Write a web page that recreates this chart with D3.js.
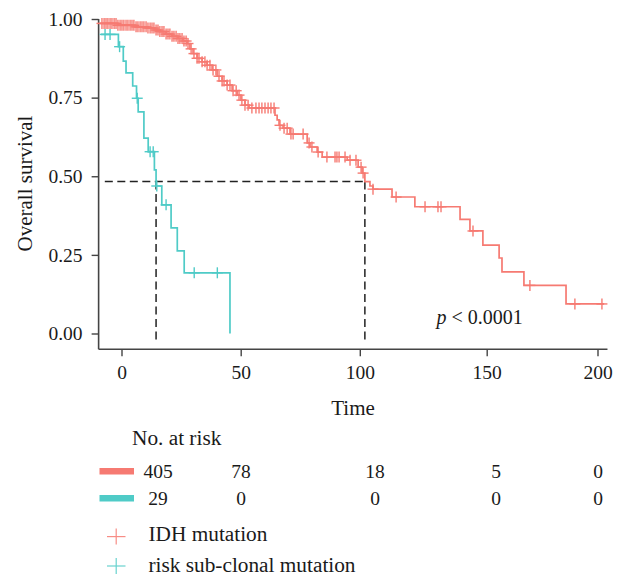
<!DOCTYPE html>
<html>
<head>
<meta charset="utf-8">
<script src="https://cdn.jsdelivr.net/npm/d3@7"></script>
<style>
  body { margin: 0; background: #fff; }
  svg { display: block; }
  text { font-family: "Liberation Serif", "Times New Roman", serif; fill: #1a1a1a; }
</style>
</head>
<body>
<svg id="chart" width="626" height="575"></svg>
<script>
// ---- data -------------------------------------------------------------
const timeTicks = [0, 50, 100, 150, 200];
const survTicks = [0, 0.25, 0.5, 0.75, 1];
const groupNames = ["IDH mutation", "risk sub-clonal mutation"];

// Kaplan–Meier steps: [time, survival from that time on]
const idhSteps = [
  [-9.0, 0.986], [-1.5, 0.980], [5.7, 0.975], [11.1, 0.971], [14.1, 0.965],
  [16.1, 0.960], [18.7, 0.952], [21.2, 0.945], [23.7, 0.938], [25.8, 0.930],
  [27.5, 0.922], [28.7, 0.905], [30.0, 0.890], [31.7, 0.875], [33.8, 0.864],
  [35.9, 0.853], [38.0, 0.838], [40.1, 0.818], [42.2, 0.803], [44.3, 0.790],
  [46.4, 0.772], [48.5, 0.758], [50.1, 0.742], [51.8, 0.726], [53.5, 0.717],
  [64.4, 0.694], [65.3, 0.679], [66.1, 0.662], [67.8, 0.653], [70.7, 0.634],
  [77.9, 0.606], [79.1, 0.593], [82.1, 0.577], [84.2, 0.561], [94.7, 0.551],
  [99.3, 0.529], [100.9, 0.510], [102.0, 0.483], [104.0, 0.469], [105.2, 0.459],
  [112.7, 0.434], [121.7, 0.403], [139.5, 0.363], [143.4, 0.326], [148.5, 0.281],
  [155.6, 0.240], [156.9, 0.196], [166.8, 0.153], [185.8, 0.094]
];
const idhEnd = 203;
const idhCensor = [
  -8.2, -7.3, -6.5, -5.7, -4.8, -4.0, -3.1, -2.3, -1.5, -0.6, 0.2, 1.0, 1.9, 2.7,
  3.6, 4.4, 5.2, 6.1, 6.9, 7.8, 8.6, 9.4, 10.3, 11.1, 12.0, 12.8, 13.6, 14.5,
  15.3, 16.1, 17.0, 17.8, 18.7, 19.5, 20.3, 21.2, 22.0, 22.9, 23.7, 24.5, 25.4,
  26.2, 27.1, 27.9, 29.2, 30.4, 31.7, 32.5, 33.8, 35.0, 35.9, 37.1, 38.4, 39.6,
  40.9, 42.2, 43.0, 44.3, 45.5, 46.8, 48.1, 49.3, 50.5, 51.8, 53.1, 54.7, 56.4,
  57.7, 58.9, 60.2, 61.5, 62.7, 64.0, 66.5, 68.2, 69.5, 71.1, 72.0, 76.2, 78.7,
  79.9, 82.5, 86.2, 89.6, 90.4, 91.3, 93.8, 95.9, 98.4, 100.5, 101.3, 105.2,
  114.3, 125.7, 130.8, 132.0, 144.6, 169.5, 189.8, 202.0
];

const subSteps = [
  [-8.6, 0.951], [-1.3, 0.912], [0.75, 0.866], [1.9, 0.829], [4.7, 0.787],
  [6.3, 0.748], [7.0, 0.705], [9.4, 0.621], [11.2, 0.578], [13.8, 0.520],
  [14.5, 0.469], [16.9, 0.409], [20.8, 0.336], [23.4, 0.263], [26.3, 0.193],
  [45.5, 0.0]
];
const subCensor = [-6.9, -4.8, -0.8, 6.6, 12.0, 13.3, 14.8, 18.7, 30.5, 40.2];

const medianTimes = [14.5, 102.0];
const medianLevel = 0.483;
const medianStart = -7;

const riskLabel = "No. at risk";
const atRiskIdh = [405, 78, 18, 5, 0];
const atRiskSub = [29, 0, 0, 0, 0];
const pLabel = "p < 0.0001";

// ---- layout ------------------------------------------------------------
const colors = ["#F67A72", "#4FCBC7"];
const svg = d3.select("#chart");

const x = d3.scaleLinear().domain(timeTicks).range([121.5, 240.7, 359.8, 486.7, 597.5]);
const y = d3.scaleLinear().domain([0, 1]).range([333.5, 19]);
const xLim = [-9.6, 204.5];
const yLim = [-0.05, 1];
// column positions of the at-risk table
const xRisk = d3.scaleLinear().domain(timeTicks).range([158, 241, 375, 496, 598]);

const axisColor = "#444";

// axes lines
svg.append("line")
  .attr("x1", x(xLim[0])).attr("x2", x(xLim[0]))
  .attr("y1", y(yLim[1])).attr("y2", y(yLim[0]))
  .attr("stroke", axisColor).attr("stroke-width", 1.6);
svg.append("line")
  .attr("x1", x(xLim[0])).attr("x2", x(xLim[1]))
  .attr("y1", y(yLim[0])).attr("y2", y(yLim[0]))
  .attr("stroke", axisColor).attr("stroke-width", 1.6);

// x axis
const gx = svg.append("g").attr("transform", `translate(0,${y(yLim[0])})`)
  .call(d3.axisBottom(x).tickValues(timeTicks).tickSize(7).tickPadding(9).tickFormat(d3.format("d")));
gx.select(".domain").remove();
gx.selectAll("line").attr("stroke", axisColor).attr("stroke-width", 1.4);
gx.selectAll("text").attr("font-size", 19.5).attr("fill", "#1a1a1a")
  .attr("font-family", "Liberation Serif, serif");

// y axis
const gy = svg.append("g").attr("transform", `translate(${x(xLim[0])},0)`)
  .call(d3.axisLeft(y).tickValues(survTicks).tickSize(7).tickPadding(9).tickFormat(d3.format(".2f")));
gy.select(".domain").remove();
gy.selectAll("line").attr("stroke", axisColor).attr("stroke-width", 1.4);
gy.selectAll("text").attr("font-size", 19.5).attr("fill", "#1a1a1a")
  .attr("font-family", "Liberation Serif, serif");

// axis titles
svg.append("text").attr("x", 353).attr("y", 414.5).attr("text-anchor", "middle")
  .attr("font-size", 21).text("Time");
svg.append("text").attr("transform", "translate(31.5,183.5) rotate(-90)")
  .attr("text-anchor", "middle").attr("font-size", 21).text("Overall survival");

// survival curves
function survAt(steps, t) {
  let s = steps[0][1];
  for (const [ti, si] of steps) { if (ti <= t) s = si; }
  return s;
}
const line = d3.line().x(d => x(d[0])).y(d => y(d[1])).curve(d3.curveStepAfter);

const curves = [
  { steps: idhSteps.concat([[idhEnd, idhSteps[idhSteps.length - 1][1]]]), censor: idhCensor, raw: idhSteps, color: colors[0] },
  { steps: subSteps, censor: subCensor, raw: subSteps, color: colors[1] }
];

// median guide lines
const dash = "8,4.5";
svg.append("line")
  .attr("x1", x(medianStart)).attr("x2", x(d3.max(medianTimes)))
  .attr("y1", y(medianLevel)).attr("y2", y(medianLevel))
  .attr("stroke", "#222").attr("stroke-width", 1.5).attr("stroke-dasharray", dash);
svg.selectAll("line.med").data(medianTimes).join("line").attr("class", "med")
  .attr("x1", d => x(d)).attr("x2", d => x(d))
  .attr("y1", y(medianLevel)).attr("y2", y(-0.02))
  .attr("stroke", "#222").attr("stroke-width", 1.5).attr("stroke-dasharray", dash);

curves.forEach(c => {
  svg.append("path").datum(c.steps).attr("d", line)
    .attr("fill", "none").attr("stroke", c.color).attr("stroke-width", 1.7);
  const cs = 5.5;
  const g = svg.append("g").attr("stroke", c.color).attr("stroke-width", 1.4);
  c.censor.forEach(t => {
    const cx = x(t), cy = y(survAt(c.raw, t));
    g.append("line").attr("x1", cx - cs).attr("x2", cx + cs).attr("y1", cy).attr("y2", cy);
    g.append("line").attr("x1", cx).attr("x2", cx).attr("y1", cy - cs).attr("y2", cy + cs);
  });
});

// p value
const pt = svg.append("text").attr("x", 436.5).attr("y", 323.5).attr("font-size", 20);
pt.append("tspan").attr("font-style", "italic").text(pLabel.slice(0, 1));
pt.append("tspan").text(pLabel.slice(1));

// at-risk table
svg.append("text").attr("x", 132).attr("y", 445).attr("font-size", 21.3).text(riskLabel);
[atRiskIdh, atRiskSub].forEach((row, i) => {
  const by = [477.5, 504.5][i];
  svg.append("rect").attr("x", 99.5).attr("y", by - 9.5).attr("width", 34.5).attr("height", 6.5)
    .attr("fill", colors[i]);
  svg.selectAll(null).data(row).join("text")
    .attr("x", (d, j) => xRisk(timeTicks[j])).attr("y", by)
    .attr("text-anchor", "middle").attr("font-size", 19.5).text(d => d);
});

// legend
groupNames.forEach((name, i) => {
  const ly = [536.6, 566][i];
  const g = svg.append("g").attr("stroke", colors[i]).attr("stroke-width", 1.2).attr("opacity", 0.85);
  g.append("line").attr("x1", 107).attr("x2", 125.5).attr("y1", ly).attr("y2", ly);
  g.append("line").attr("x1", 116.2).attr("x2", 116.2).attr("y1", ly - 8).attr("y2", ly + 8);
  svg.append("text").attr("x", 148.5).attr("y", ly + 4.5 + (i ? 1 : 0)).attr("font-size", 21.3).text(name);
});
</script>
</body>
</html>
